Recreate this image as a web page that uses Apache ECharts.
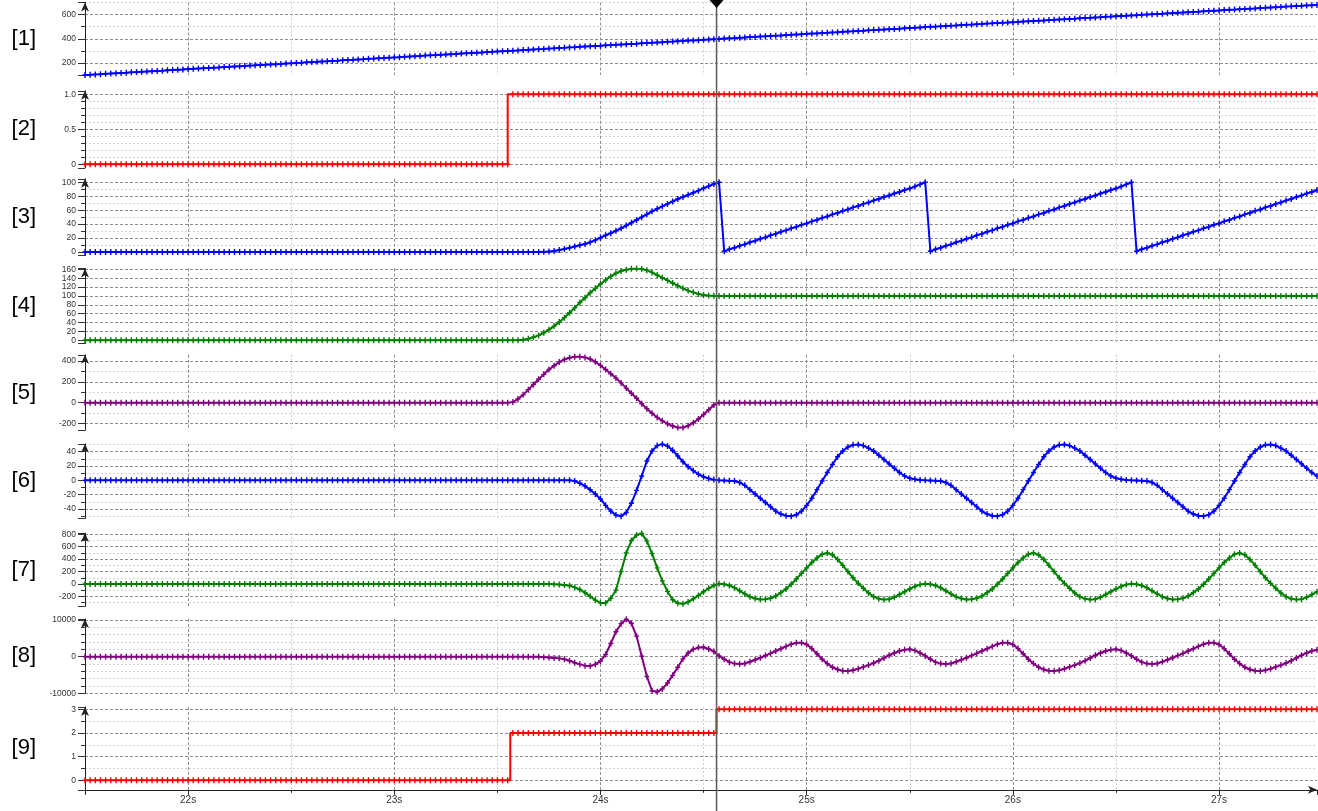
<!DOCTYPE html>
<html>
<head>
<meta charset="utf-8">
<script src="https://cdn.jsdelivr.net/npm/echarts@6/dist/echarts.min.js"></script>
<style>
html,body{margin:0;padding:0;background:#fff;}
#chart{width:1318px;height:811px;}
</style>
</head>
<body>
<div id="chart"></div>
<script>
// ---------------- DATA ----------------
const sampleStart = 21.5, sampleStep = 0.025, sampleCount = 240;
const sampleTimes = Array.from({length: sampleCount}, (_, i) => +(sampleStart + i * sampleStep).toFixed(3));
const cursorTime = 24.563;

const panelNames = ['[1]','[2]','[3]','[4]','[5]','[6]','[7]','[8]','[9]'];

const xTickValues = [22, 23, 24, 25, 26, 27];
const xTickLabels = ['22s', '23s', '24s', '25s', '26s', '27s'];

const yTickValues = [
  [200, 400, 600],
  [0, 0.5, 1],
  [0, 20, 40, 60, 80, 100],
  [0, 20, 40, 60, 80, 100, 120, 140, 160],
  [-200, 0, 200, 400],
  [-40, -20, 0, 20, 40],
  [-200, 0, 200, 400, 600, 800],
  [-10000, 0, 10000],
  [0, 1, 2, 3]
];
const yTickLabels = [
  ['200', '400', '600'],
  ['0', '0.5', '1.0'],
  ['0', '20', '40', '60', '80', '100'],
  ['0', '20', '40', '60', '80', '100', '120', '140', '160'],
  ['-200', '0', '200', '400'],
  ['-40', '-20', '0', '20', '40'],
  ['-200', '0', '200', '400', '600', '800'],
  ['-10000', '0', '10000'],
  ['0', '1', '2', '3']
];
const yMin = [100, -0.05, -5, -7, -265, -53, -360, -10000, -0.4];
const yMax = [701, 1.05, 105, 162, 460, 51, 820, 10300, 3.1];
const yMajor = [200, 0.5, 20, 20, 200, 20, 200, 10000, 1];
const yMinorSplit = [2, 5, 2, 1, 2, 2, 2, 5, 2];

const s1 = [
100,102,105,107,110,112,115,117,119,122,
124,127,129,132,134,136,139,141,144,146,
149,151,154,156,158,161,163,166,168,171,
173,175,178,180,183,185,188,190,192,195,
197,200,202,205,207,209,212,214,217,219,
222,224,226,229,231,234,236,239,241,244,
246,248,251,253,256,258,261,263,265,268,
270,273,275,278,280,282,285,287,290,292,
295,297,299,302,304,307,309,312,314,316,
319,321,324,326,329,331,334,336,338,341,
343,346,348,351,353,355,358,360,363,365,
368,370,372,375,377,380,382,385,387,389,
392,394,397,399,402,404,406,409,411,414,
416,419,421,424,426,428,431,433,436,438,
441,443,445,448,450,453,455,458,460,462,
465,467,470,472,475,477,480,482,484,487,
489,492,494,497,499,501,504,506,509,511,
514,516,518,521,523,526,528,531,533,535,
538,540,543,545,548,550,552,555,557,560,
562,565,567,570,572,574,577,579,582,584,
587,589,591,594,596,599,601,604,606,608,
611,613,616,618,621,623,625,628,630,633,
635,638,640,642,645,647,650,652,655,657,
660,662,664,667,669,672,674,677,679,681
];

const s2 = [
0,0,0,0,0,0,0,0,0,0,
0,0,0,0,0,0,0,0,0,0,
0,0,0,0,0,0,0,0,0,0,
0,0,0,0,0,0,0,0,0,0,
0,0,0,0,0,0,0,0,0,0,
0,0,0,0,0,0,0,0,0,0,
0,0,0,0,0,0,0,0,0,0,
0,0,0,0,0,0,0,0,0,0,
0,0,0,1,1,1,1,1,1,1,
1,1,1,1,1,1,1,1,1,1,
1,1,1,1,1,1,1,1,1,1,
1,1,1,1,1,1,1,1,1,1,
1,1,1,1,1,1,1,1,1,1,
1,1,1,1,1,1,1,1,1,1,
1,1,1,1,1,1,1,1,1,1,
1,1,1,1,1,1,1,1,1,1,
1,1,1,1,1,1,1,1,1,1,
1,1,1,1,1,1,1,1,1,1,
1,1,1,1,1,1,1,1,1,1,
1,1,1,1,1,1,1,1,1,1,
1,1,1,1,1,1,1,1,1,1,
1,1,1,1,1,1,1,1,1,1,
1,1,1,1,1,1,1,1,1,1,
1,1,1,1,1,1,1,1,1,1
];

const s3 = [
0,0,0,0,0,0,0,0,0,0,
0,0,0,0,0,0,0,0,0,0,
0,0,0,0,0,0,0,0,0,0,
0,0,0,0,0,0,0,0,0,0,
0,0,0,0,0,0,0,0,0,0,
0,0,0,0,0,0,0,0,0,0,
0,0,0,0,0,0,0,0,0,0,
0,0,0,0,0,0,0,0,0,0,
0,0,0,0,0,0,0,0,0,0.2,
0.7,1.5,2.8,4.2,6.2,8,9.8,11.6,14,17,
20.5,24,27,30.5,34,38,42,46,50,54,
58.4,62,65.5,69,72.5,76,79,82,85,88,
91.5,94.5,97.5,100,1,4,6,9,11,14,
16,19,21,24,26,29,31,34,36,39,
41,44,46,49,51,54,56,59,61,64,
66,69,71,74,76,79,81,84,86,89,
91,94,97,100,1,4,6,9,11,14,
16,19,21,24,26,29,31,34,36,39,
41,44,46,49,51,54,56,59,61,64,
66,69,71,74,76,79,81,84,86,89,
91,94,97,100,1,4,6,9,11,14,
16,19,21,24,26,29,31,34,36,39,
41,44,46,49,51,54,56,59,61,64,
66,69,71,74,76,79,81,84,86,89
];

const s4 = [
0,0,0,0,0,0,0,0,0,0,
0,0,0,0,0,0,0,0,0,0,
0,0,0,0,0,0,0,0,0,0,
0,0,0,0,0,0,0,0,0,0,
0,0,0,0,0,0,0,0,0,0,
0,0,0,0,0,0,0,0,0,0,
0,0,0,0,0,0,0,0,0,0,
0,0,0,0,0,0,0,0,0,0,
0,0,0,0,0,1,3.5,7,11,17,
24,32,41,51,62,73,85,96,107,117,
127,136,144,151,156,159,161,161.5,160.5,158,
153,147,141,135,129,123,117,112,108,104.5,
102,100.7,100.1,100,100,100,100,100,100,100,
100,100,100,100,100,100,100,100,100,100,
100,100,100,100,100,100,100,100,100,100,
100,100,100,100,100,100,100,100,100,100,
100,100,100,100,100,100,100,100,100,100,
100,100,100,100,100,100,100,100,100,100,
100,100,100,100,100,100,100,100,100,100,
100,100,100,100,100,100,100,100,100,100,
100,100,100,100,100,100,100,100,100,100,
100,100,100,100,100,100,100,100,100,100,
100,100,100,100,100,100,100,100,100,100,
100,100,100,100,100,100,100,100,100,100
];

const s5 = [
0,0,0,0,0,0,0,0,0,0,
0,0,0,0,0,0,0,0,0,0,
0,0,0,0,0,0,0,0,0,0,
0,0,0,0,0,0,0,0,0,0,
0,0,0,0,0,0,0,0,0,0,
0,0,0,0,0,0,0,0,0,0,
0,0,0,0,0,0,0,0,0,0,
0,0,0,0,0,0,0,0,0,0,
0,0,0,5,35,75,125,175,225,272,
318,355,390,415,432,441,442,435,420,392,
358,318,278,236,190,140,90,42,-10,-58,
-102,-142,-175,-203,-225,-240,-240,-222,-193,-157,
-115,-68,-22,0,0,0,0,0,0,0,
0,0,0,0,0,0,0,0,0,0,
0,0,0,0,0,0,0,0,0,0,
0,0,0,0,0,0,0,0,0,0,
0,0,0,0,0,0,0,0,0,0,
0,0,0,0,0,0,0,0,0,0,
0,0,0,0,0,0,0,0,0,0,
0,0,0,0,0,0,0,0,0,0,
0,0,0,0,0,0,0,0,0,0,
0,0,0,0,0,0,0,0,0,0,
0,0,0,0,0,0,0,0,0,0,
0,0,0,0,0,0,0,0,0,0
];

const s6 = [
0,0,0,0,0,0,0,0,0,0,
0,0,0,0,0,0,0,0,0,0,
0,0,0,0,0,0,0,0,0,0,
0,0,0,0,0,0,0,0,0,0,
0,0,0,0,0,0,0,0,0,0,
0,0,0,0,0,0,0,0,0,0,
0,0,0,0,0,0,0,0,0,0,
0,0,0,0,0,0,0,0,0,0,
0,0,0,0,0,0,0,0,0,0,
0,0,0,0,0,-1,-4,-8,-13,-19,
-26,-35,-43,-48.5,-50,-45,-32,-14,6,27,
41,48.5,50.5,48,42,34,26,19,13.5,8.5,
5,2.5,1,0,-0.3,-0.6,-1,-3,-7,-13,
-19,-25,-31,-37,-43,-47,-49.5,-50,-48,-43,
-35,-25,-13,-1,11,22,33,41,46.5,49.5,
50,48.5,45,41,35,29,23,17,11,6,
3,1.5,0.5,0,-0.3,-0.6,-1,-3,-7,-13,
-19,-25,-31,-37,-43,-47,-49.5,-50,-48,-43,
-35,-25,-13,-1,11,22,33,41,46.5,49.5,
50,48.5,45,41,35,29,23,17,11,6,
3,1.5,0.5,0,-0.3,-0.6,-1,-3,-7,-13,
-19,-25,-31,-37,-43,-47,-49.5,-50,-48,-43,
-35,-25,-13,-1,11,22,33,41,46.5,49.5,
50,48.5,45,41,35,29,23,17,11,6
];

const s7 = [
0,0,0,0,0,0,0,0,0,0,
0,0,0,0,0,0,0,0,0,0,
0,0,0,0,0,0,0,0,0,0,
0,0,0,0,0,0,0,0,0,0,
0,0,0,0,0,0,0,0,0,0,
0,0,0,0,0,0,0,0,0,0,
0,0,0,0,0,0,0,0,0,0,
0,0,0,0,0,0,0,0,0,0,
0,0,0,0,0,0,0,0,0,0,
0,-3,-8,-16,-27,-55,-89,-140,-200,-260,
-305,-305,-230,-100,200,500,700,790,815,690,
490,260,50,-120,-255,-310,-320,-290,-240,-185,
-125,-70,-25,2,-5,-25,-60,-110,-160,-205,
-235,-250,-248,-230,-195,-140,-80,-5,80,170,
260,345,420,480,498,470,395,300,200,100,
10,-70,-145,-205,-240,-252,-245,-215,-170,-125,
-80,-40,-10,2,-5,-25,-60,-110,-160,-205,
-235,-250,-248,-230,-195,-140,-80,-5,80,170,
260,345,420,480,498,470,395,300,200,100,
10,-70,-145,-205,-240,-252,-245,-215,-170,-125,
-80,-40,-10,2,-5,-25,-60,-110,-160,-205,
-235,-250,-248,-230,-195,-140,-80,-5,80,170,
260,345,420,480,498,470,395,300,200,100,
10,-70,-145,-205,-240,-252,-245,-215,-170,-125
];

const s8 = [
0,0,0,0,0,0,0,0,0,0,
0,0,0,0,0,0,0,0,0,0,
0,0,0,0,0,0,0,0,0,0,
0,0,0,0,0,0,0,0,0,0,
0,0,0,0,0,0,0,0,0,0,
0,0,0,0,0,0,0,0,0,0,
0,0,0,0,0,0,0,0,0,0,
0,0,0,0,0,0,0,0,0,0,
0,0,0,0,0,0,0,-20,-60,-130,
-230,-340,-470,-700,-1100,-1650,-2100,-2450,-2530,-2100,
-1200,600,3600,6800,9000,10200,9100,5600,100,-5400,
-9300,-9600,-8800,-7200,-5100,-2900,-600,1000,2000,2500,
2550,2100,1400,200,-700,-1500,-1900,-2000,-1850,-1400,
-850,-300,300,900,1550,2150,2800,3400,3800,3800,
3300,2200,800,-700,-1900,-2900,-3500,-3850,-3900,-3700,
-3300,-2800,-2300,-1750,-1100,-350,400,1000,1550,1900,
2000,1700,1000,200,-700,-1500,-1900,-2000,-1850,-1400,
-850,-300,300,900,1550,2150,2800,3400,3800,3800,
3300,2200,800,-700,-1900,-2900,-3500,-3850,-3900,-3700,
-3300,-2800,-2300,-1750,-1100,-350,400,1000,1550,1900,
2000,1700,1000,200,-700,-1500,-1900,-2000,-1850,-1400,
-850,-300,300,900,1550,2150,2800,3400,3800,3800,
3300,2200,800,-700,-1900,-2900,-3500,-3850,-3900,-3700,
-3300,-2800,-2300,-1750,-1100,-350,400,1000,1550,1900
];

const s9 = [
0,0,0,0,0,0,0,0,0,0,
0,0,0,0,0,0,0,0,0,0,
0,0,0,0,0,0,0,0,0,0,
0,0,0,0,0,0,0,0,0,0,
0,0,0,0,0,0,0,0,0,0,
0,0,0,0,0,0,0,0,0,0,
0,0,0,0,0,0,0,0,0,0,
0,0,0,0,0,0,0,0,0,0,
0,0,0,2,2,2,2,2,2,2,
2,2,2,2,2,2,2,2,2,2,
2,2,2,2,2,2,2,2,2,2,
2,2,2,2,2,2,2,2,2,2,
2,2,2,3,3,3,3,3,3,3,
3,3,3,3,3,3,3,3,3,3,
3,3,3,3,3,3,3,3,3,3,
3,3,3,3,3,3,3,3,3,3,
3,3,3,3,3,3,3,3,3,3,
3,3,3,3,3,3,3,3,3,3,
3,3,3,3,3,3,3,3,3,3,
3,3,3,3,3,3,3,3,3,3,
3,3,3,3,3,3,3,3,3,3,
3,3,3,3,3,3,3,3,3,3,
3,3,3,3,3,3,3,3,3,3,
3,3,3,3,3,3,3,3,3,3
];

const panelSeries = [s1, s2, s3, s4, s5, s6, s7, s8, s9];

// ---------------- LAYOUT / STYLE ----------------
const xMin = 21.5, xMax = 27.475;
const gridLeft = 85, gridWidth = 1232;
const gridTop = [2.5, 90.8, 178.8, 268.4, 354.8, 443.8, 533.1, 618.9, 707];
const gridHeight = [72.5, 77, 76.7, 75, 75.4, 74.5, 73.2, 74.4, 82.8];
const lineColors = ['#0000ff', '#ff0000', '#0000ff', '#008000', '#800080', '#0000ff', '#008000', '#800080', '#ff0000'];
const stepModes = [false, 'start', false, false, false, false, false, false, 'middle'];
const majorGrid = {color: '#8e8e8e', width: 1, type: [3, 2]};
const minorGrid = {color: '#d2d2d2', width: 1, type: [2, 2]};
const axisColor = '#222';
const fontFamily = 'Liberation Sans';
const plusSymbol = 'path://M1.8,0H3.2V2.3H5V3.7H3.2V6H1.8V3.7H0V2.3H1.8Z';

function lookup(values, labels, v) {
  const i = values.findIndex(x => Math.abs(x - v) < 1e-9);
  return i >= 0 ? labels[i] : '';
}

const grids = [], xAxes = [], yAxes = [], series = [];
for (let p = 0; p < 9; p++) {
  const isBottom = p === 8;
  grids.push({left: gridLeft, width: gridWidth, top: gridTop[p], height: gridHeight[p], outerBoundsMode: 'none', containLabel: false});
  xAxes.push({
    type: 'value', gridIndex: p, min: xMin, max: xMax, minInterval: 1, maxInterval: 1,
    axisLine: {show: isBottom, onZero: false, symbol: ['none', 'arrow'], symbolSize: [6, 9], lineStyle: {color: axisColor, width: 1}},
    axisTick: {show: isBottom, length: 5, lineStyle: {color: axisColor}},
    minorTick: {show: isBottom, splitNumber: 2, length: 3, lineStyle: {color: axisColor}},
    axisLabel: {show: isBottom, margin: 5, fontSize: 10, color: '#333', fontFamily,
      showMinLabel: false, showMaxLabel: false,
      formatter: v => lookup(xTickValues, xTickLabels, v)},
    splitLine: {show: true, showMinLine: false, showMaxLine: false, lineStyle: majorGrid},
    minorSplitLine: {show: true, lineStyle: minorGrid}
  });
  const hasMinor = yMinorSplit[p] > 1;
  yAxes.push({
    type: 'value', gridIndex: p, min: yMin[p], max: yMax[p], minInterval: yMajor[p], maxInterval: yMajor[p],
    name: panelNames[p], nameLocation: 'middle', nameRotate: 0, nameGap: 49,
    nameTextStyle: {fontSize: 22, color: '#000', fontFamily},
    axisLine: {show: true, onZero: false, symbol: ['none', 'arrow'], symbolSize: [6, 9], lineStyle: {color: axisColor, width: 1}},
    axisTick: {show: true, length: 7, lineStyle: {color: '#333'}},
    minorTick: {show: hasMinor, splitNumber: yMinorSplit[p], length: 4, lineStyle: {color: '#333'}},
    axisLabel: {fontSize: 8.5, color: '#333', margin: 9, fontFamily,
      formatter: (v => lookup(yTickValues[p], yTickLabels[p], v))},
    splitLine: {show: true, showMinLine: p === 7, showMaxLine: false, lineStyle: majorGrid},
    minorSplitLine: {show: hasMinor, lineStyle: minorGrid}
  });
  series.push({
    type: 'line', xAxisIndex: p, yAxisIndex: p,
    data: sampleTimes.map((t, i) => [t, panelSeries[p][i]]),
    step: stepModes[p],
    symbol: plusSymbol, symbolSize: [5, 6], showAllSymbol: true,
    lineStyle: {color: lineColors[p], width: 2},
    itemStyle: {color: lineColors[p]},
    animation: false, z: 3
  });
}

// cursor overlay grid spanning the full height
grids.push({left: gridLeft, width: gridWidth, top: 0, bottom: 0, outerBoundsMode: 'none', containLabel: false});
xAxes.push({type: 'value', gridIndex: 9, min: xMin, max: xMax, show: false});
yAxes.push({type: 'value', gridIndex: 9, min: 0, max: 1, show: false});
series.push({
  type: 'line', xAxisIndex: 9, yAxisIndex: 9,
  data: [[cursorTime, 0], [cursorTime, 1]],
  symbol: (val, params) => params.dataIndex === 1 ? 'diamond' : 'none',
  symbolSize: [14, 16], showAllSymbol: true,
  lineStyle: {color: '#5a5a5a', width: 1.5},
  itemStyle: {color: '#000'},
  animation: false, z: 10, silent: true
});

const chart = echarts.init(document.getElementById('chart'), null, {renderer: 'canvas'});
chart.setOption({
  backgroundColor: '#ffffff',
  animation: false,
  textStyle: {fontFamily},
  grid: grids,
  xAxis: xAxes,
  yAxis: yAxes,
  series: series
});
</script>
</body>
</html>
